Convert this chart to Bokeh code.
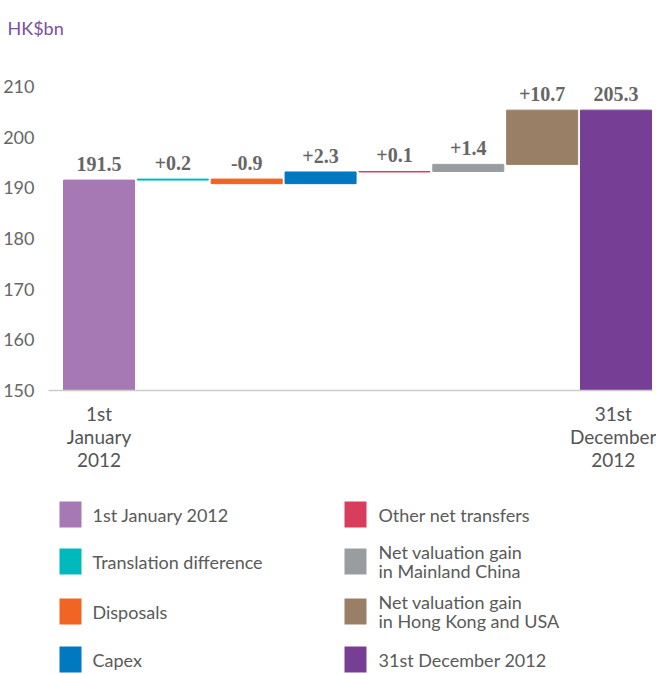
from bokeh.plotting import figure
from bokeh.models import Range1d, FixedTicker, ColumnDataSource
from bokeh.layouts import column
from bokeh.core.properties import value
from bokeh.embed import file_html
from bokeh.resources import INLINE

# ---- data ----
categories = ["1st January 2012", "Translation difference", "Disposals", "Capex",
              "Other net transfers", "Net valuation gain in Mainland China",
              "Net valuation gain in Hong Kong and USA", "31st December 2012"]
legend_labels = ["1st January 2012", "Translation difference", "Disposals", "Capex",
                 "Other net transfers", "Net valuation gain\nin Mainland China",
                 "Net valuation gain\nin Hong Kong and USA", "31st December 2012"]
values = [191.5, 0.2, -0.9, 2.3, 0.1, 1.4, 10.7, 205.3]
colors = ["#A678B4", "#00B9BD", "#F26424", "#0079C1", "#D83D5E", "#9A9DA0", "#9A7F67", "#763F95"]
y_ticks = [150, 160, 170, 180, 190, 200, 210]
x_tick_labels = {0: "1st\nJanuary\n2012", 7: "31st\nDecember\n2012"}
unit_title = "HK$bn"
baseline = 150

# ---- waterfall geometry from values ----
n = len(values)
bottoms, tops, labels = [], [], []
running = values[0]
for i, v in enumerate(values):
    if i == 0 or i == n - 1:
        bottoms.append(baseline)
        tops.append(v)
        labels.append(f"{v:.1f}")
    else:
        b = running
        running = round(running + v, 1)
        bottoms.append(min(b, running))
        tops.append(max(b, running))
        labels.append(f"{v:+.1f}")

src = ColumnDataSource(dict(x=list(range(n)), bottom=bottoms, top=tops,
                            color=colors, label=labels, cat=categories))

W = 656
H1 = 480
TOP, BOTTOM, LEFT, RIGHT = 50, 90, 48, 4
PX_PER_UNIT = 5.07
PITCH = 73.86
frame_h = H1 - TOP - BOTTOM
x_start = -(98.5 - LEFT) / PITCH
p = figure(width=W, height=H1,
           x_range=Range1d(x_start, 7 + (W - RIGHT - 615.5) / PITCH),
           y_range=Range1d(baseline, baseline + frame_h / PX_PER_UNIT),
           output_backend="svg", toolbar_location=None,
           min_border_left=LEFT, min_border_right=RIGHT,
           min_border_bottom=BOTTOM, min_border_top=TOP)
p.outline_line_color = None
p.xgrid.visible = False
p.ygrid.visible = False

p.vbar(x="x", bottom="bottom", top="top", width=71 / PITCH, fill_color="color",
       line_color="color", line_width=1, source=src)
p.text(x="x", y="top", text="label", source=src, text_align="center",
       text_baseline="middle", y_offset=-16,
       text_font=value("Liberation Serif"), text_font_style="bold",
       text_font_size="20px", text_color="#666666")

p.yaxis.ticker = FixedTicker(ticks=y_ticks)
p.yaxis.axis_line_color = None
p.yaxis.major_tick_line_color = None
p.yaxis.minor_tick_line_color = None
p.yaxis.major_label_text_font = "Lato"
p.yaxis.major_label_text_font_size = "18px"
p.yaxis.major_label_text_color = "#666666"
p.yaxis.major_label_standoff = 8

p.xaxis.ticker = FixedTicker(ticks=list(x_tick_labels.keys()))
p.xaxis.major_label_overrides = x_tick_labels
p.xaxis.axis_line_color = "#CCCCCC"
p.xaxis.axis_line_width = 1.5
p.xaxis.major_tick_line_color = None
p.xaxis.minor_tick_line_color = None
p.xaxis.major_label_text_font = "Lato"
p.xaxis.major_label_text_font_size = "19px"
p.xaxis.major_label_text_color = "#555555"
p.xaxis.major_label_text_line_height = 1.0
p.xaxis.major_label_standoff = 5

p.title.text = unit_title
p.title.text_font = "Lato"
p.title.text_font_size = "18px"
p.title.text_font_style = "normal"
p.title.text_color = "#7B4F9D"
p.title.align = "left"
p.title.offset = -41
p.title.standoff = 24

# ---- legend figure (frame aligned with the chart frame, x in page pixels) ----
LH = 193
lg = figure(width=W, height=LH, x_range=Range1d(LEFT, W - RIGHT), y_range=Range1d(LH, 0),
            output_backend="svg", toolbar_location=None, min_border=0,
            min_border_left=LEFT, min_border_right=RIGHT)
lg.axis.visible = False
lg.grid.visible = False
lg.outline_line_color = None
rows_y = [34, 81, 131, 179]
half = n // 2
lx = [70 if i < half else 355 for i in range(n)]
ly = [rows_y[i % half] for i in range(n)]
tx = [92 if i < half else 378 for i in range(n)]
lsrc = ColumnDataSource(dict(x=lx, y=ly, tx=tx, color=colors, label=legend_labels))
lg.rect(x="x", y="y", width=22, height=26, fill_color="color", line_color=None, source=lsrc)
lg.text(x="tx", y="y", text="label", source=lsrc, text_baseline="middle",
        text_align="left", text_font=value("Lato"), text_font_size="18px",
        text_color="#5A5A5A", text_line_height=0.9)

layout = column(p, lg, spacing=0)
open("out.html", "w").write(file_html(layout, INLINE))
